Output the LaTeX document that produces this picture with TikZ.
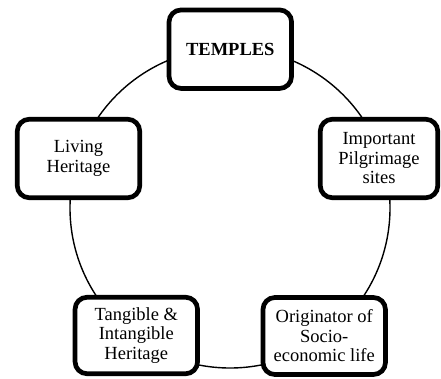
\documentclass[tikz,border=0pt]{standalone}
\usepackage{fontspec}
\setmainfont{Liberation Serif}
\begin{document}
\begin{tikzpicture}[x=1pt,y=-1pt,
  box/.style={draw, line width=4.7pt, rounded corners=12pt, fill=white, align=center,
    minimum width=122.5pt, minimum height=78.5pt, inner sep=0pt,
    font=\fontsize{18.5}{19.5}\selectfont},
  ring/.style={line width=1.4pt}]
\useasboundingbox (0,0) rectangle (441,379);
\coordinate (c) at (230,208);
\draw[ring] (c) circle (160pt);
\node[box] (temples) at (230.3,49.2) {\textbf{TEMPLES}};
\node[box] (living) at (78.5,158.5) {Living\\Heritage};
\node[box, minimum width=117.5pt] (pilgrim) at (379,158.5) {Important\\Pilgrimage\\sites};
\node[box, minimum height=76.5pt] (tangible) at (136.3,335.5) {Tangible \&\\Intangible\\Heritage};
\node[box, minimum height=77pt] (origin) at (324.2,336) {Originator of\\Socio-\\economic life};
\end{tikzpicture}
\end{document}
